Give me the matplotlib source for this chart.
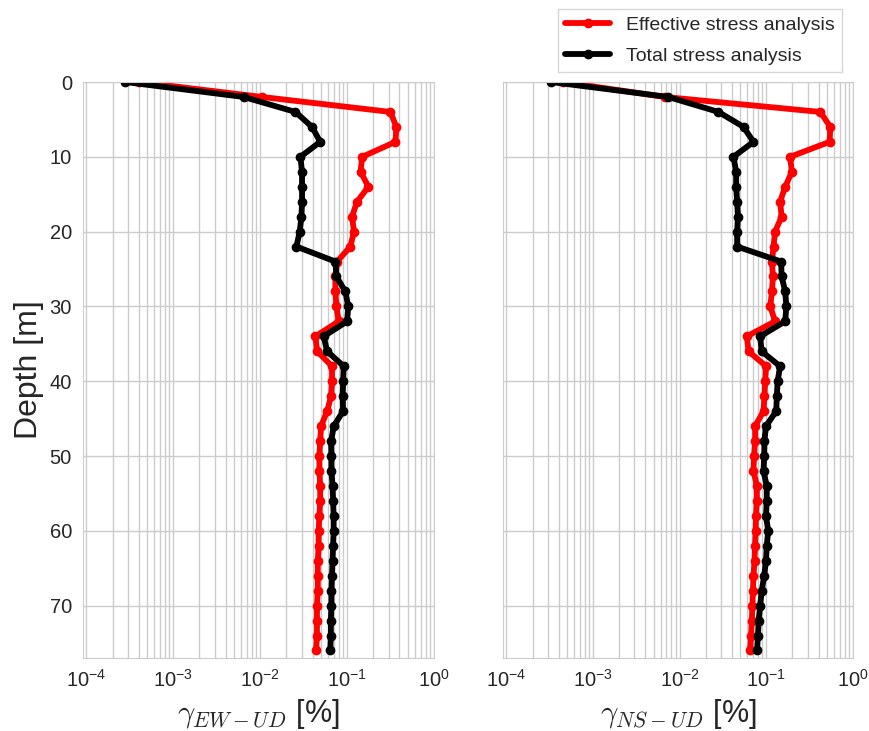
import numpy as np
import matplotlib
matplotlib.use('Agg')
import matplotlib.pyplot as plt
import seaborn as sns

# depth of each output point [m]
depth = np.arange(0, 78, 2)

# shear strain profiles [%], EW-UD component
ew_effective = [4.0e-4, 0.0105, 0.315, 0.369, 0.36, 0.149, 0.143, 0.176, 0.130, 0.114,
                0.120, 0.109, 0.0767, 0.0733, 0.0733, 0.0753, 0.080, 0.0432, 0.0452, 0.0671,
                0.0671, 0.0655, 0.0589, 0.0502, 0.049, 0.048, 0.048, 0.049, 0.049, 0.048,
                0.047, 0.047, 0.046, 0.046, 0.046, 0.045, 0.045, 0.045, 0.044]
ew_total = [2.8e-4, 0.00646, 0.0254, 0.0395, 0.049, 0.029, 0.0303, 0.0303, 0.0303, 0.0298,
            0.0285, 0.0261, 0.0733, 0.0753, 0.0955, 0.103, 0.100, 0.0538, 0.0589, 0.0914,
            0.090, 0.089, 0.090, 0.0702, 0.0655, 0.066, 0.066, 0.068, 0.069, 0.070,
            0.070, 0.069, 0.068, 0.067, 0.066, 0.066, 0.065, 0.065, 0.064]

# NS-UD component
ns_effective = [4.5e-4, 0.00676, 0.419, 0.547, 0.537, 0.188, 0.197, 0.165, 0.144, 0.150,
                0.126, 0.121, 0.116, 0.119, 0.116, 0.111, 0.126, 0.0595, 0.0622, 0.0993,
                0.097, 0.095, 0.0927, 0.0742, 0.0742, 0.072, 0.071, 0.0777, 0.0777, 0.076,
                0.075, 0.074, 0.073, 0.071, 0.070, 0.069, 0.068, 0.0665, 0.065]
ns_total = [3.3e-4, 0.00738, 0.028, 0.0545, 0.071, 0.0417, 0.0448, 0.0448, 0.046, 0.047,
            0.046, 0.046, 0.148, 0.150, 0.165, 0.170, 0.165, 0.0848, 0.088, 0.144,
            0.135, 0.132, 0.130, 0.099, 0.095, 0.0944, 0.0927, 0.101, 0.101, 0.099,
            0.105, 0.101, 0.099, 0.0944, 0.0885, 0.0848, 0.0815, 0.080, 0.078]

sns.set_style('whitegrid')
plt.rcParams['font.family'] = ['Liberation Sans', 'DejaVu Sans']
plt.rcParams['mathtext.fontset'] = 'cm'
plt.rcParams['axes.edgecolor'] = '#cccccc'
plt.rcParams['grid.color'] = '#cccccc'

fig = plt.figure(figsize=(8.69, 7.31), dpi=100)
ax1 = fig.add_axes([0.0955, 0.0999, 0.4039, 0.7879])
ax2 = fig.add_axes([0.5788, 0.0999, 0.4028, 0.7879], sharey=ax1)

panels = [(ax1, ew_effective, ew_total, r'$\gamma_{EW-UD}$ [%]'),
          (ax2, ns_effective, ns_total, r'$\gamma_{NS-UD}$ [%]')]

for ax, eff, tot, xlab in panels:
    ax.plot(eff, depth, color='#ff0000', lw=4.2, marker='o', ms=6,
            label='Effective stress analysis')
    ax.plot(tot, depth, color='black', lw=4.2, marker='o', ms=6,
            label='Total stress analysis')
    ax.set_xscale('log')
    ax.set_xlim(10 ** -4.04, 1.0)
    ax.set_xticks([1e-4, 1e-3, 1e-2, 1e-1, 1e0])
    ax.grid(True, which='both', color='#cccccc', lw=1.0)
    ax.tick_params(axis='both', which='both', length=0, labelsize=14.5, pad=8)
    ax.set_xlabel(xlab, fontsize=22)
    for spine in ax.spines.values():
        spine.set_edgecolor('#cccccc')

ax1.set_ylim(77, 0)
ax1.set_yticks(np.arange(0, 80, 10))
ax1.set_ylabel('Depth [m]', fontsize=23)
ax2.tick_params(labelleft=False)

leg = ax2.legend(loc='upper right', bbox_to_anchor=(0.969, 1.127), borderaxespad=0,
                 fontsize=14, frameon=True, fancybox=False, handlelength=2.3,
                 numpoints=1, labelspacing=0.65)
leg.get_frame().set_edgecolor('#cccccc')

plt.savefig('out.png', dpi=100, facecolor='white')
plt.close()
